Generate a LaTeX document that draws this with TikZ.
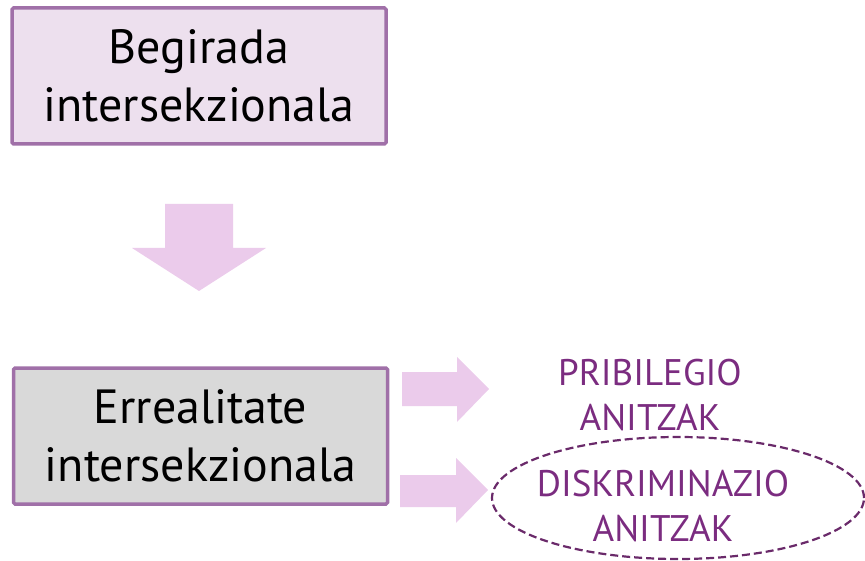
\documentclass[tikz,border=0pt]{standalone}
\usepackage{fontspec}
\setmainfont{PT Sans}
\usetikzlibrary{shapes.geometric}

\definecolor{boxedge}{HTML}{A070A8}
\definecolor{boxpink}{HTML}{EDE0EE}
\definecolor{boxgrey}{HTML}{D9D9D9}
\definecolor{arrowpink}{HTML}{EBCBEB}
\definecolor{textpurple}{HTML}{7B2C80}
\definecolor{ovaledge}{HTML}{6A2A6A}

\begin{document}
\begin{tikzpicture}[x=1pt,y=-1pt,
    block/.style={rectangle,draw=boxedge,line width=3.5pt,rounded corners=1.5pt,
        minimum width=374pt,minimum height=136pt,align=center,
        font=\fontsize{48}{58}\selectfont},
    outcome/.style={align=center,text=textpurple,font=\fontsize{37}{45}\selectfont}]
    \useasboundingbox (0,0) rectangle (865,561);

        \node[block,fill=boxpink] (B1) at (199,76) {Begirada\\intersekzionala};
        \node[block,fill=boxgrey] (B2) at (200.5,436) {Errealitate\\intersekzionala};

        % block arrows
        \fill[arrowpink] (165,204) -- (233,204) -- (233,248) -- (266,248) -- (199,291)
            -- (132,248) -- (165,248) -- cycle;
        \fill[arrowpink] (402,372) -- (457,372) -- (457,357) -- (489,389) -- (457,422)
            -- (457,406) -- (402,406) -- cycle;
        \fill[arrowpink] (400,475) -- (456,475) -- (456,458) -- (488,490) -- (456,523)
            -- (456,507) -- (400,507) -- cycle;

        \node[outcome] (P1) at (650,395) {PRIBILEGIO\\ANITZAK};
        \node[ellipse,draw=ovaledge,dash pattern=on 8pt off 4pt,line width=2.2pt,
            minimum width=372pt,minimum height=122pt] (E1) at (678,498) {};
        \node[outcome] (D1) at (663,506) {DISKRIMINAZIO\\ANITZAK};

    \end{tikzpicture}
\end{document}
